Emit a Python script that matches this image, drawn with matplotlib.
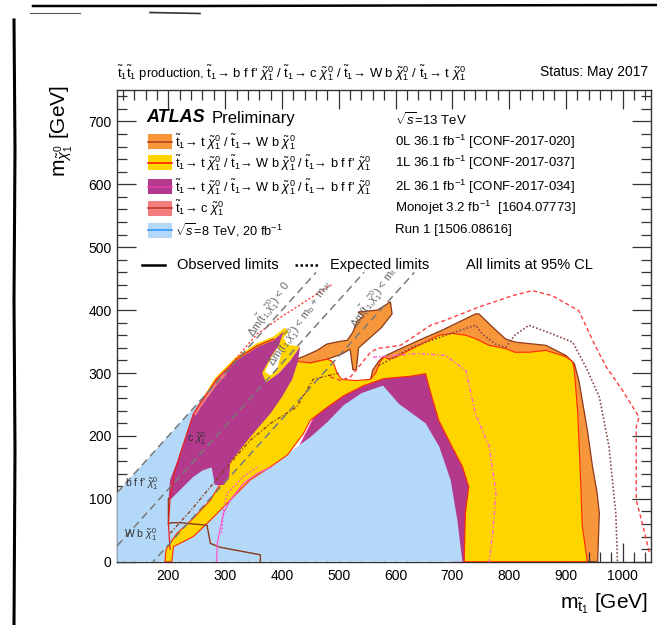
import numpy as np
import matplotlib
matplotlib.use("Agg")
import matplotlib.pyplot as plt
from matplotlib.patches import Polygon, Rectangle
from matplotlib.lines import Line2D
from matplotlib.ticker import MultipleLocator

plt.rcParams['font.family'] = ['Liberation Sans', 'DejaVu Sans']
plt.rcParams['mathtext.fontset'] = 'custom'
plt.rcParams['mathtext.rm'] = 'Liberation Sans'
plt.rcParams['mathtext.it'] = 'Liberation Sans:italic'
plt.rcParams['mathtext.bf'] = 'Liberation Sans:bold'

# exclusion regions as (m_stop, m_chi) in GeV
run1_x = [110, 110, 265, 300, 335, 380, 430, 450, 480, 509, 540, 578, 606, 653, 677, 697, 709, 715, 718]
run1_y = [0, 110, 265, 230, 200, 150, 185, 198, 222, 249, 268, 280, 251, 220, 183, 130, 66, 20, 0]

l0_main_x = [956, 959, 955, 947, 938, 923, 915, 900, 865, 812, 794, 771, 747, 741, 682, 641, 600, 577, 570, 560, 556, 600, 800, 900]
l0_main_y = [0, 77, 110, 151, 209, 288, 315, 328, 344, 349, 354, 373, 394, 394, 368, 352, 335, 325, 318, 305, 290, 280, 200, 0]
l0_spike_x = [420, 440, 462, 479, 500, 515, 525, 532, 544, 534, 568, 591, 594, 575, 550, 535, 531, 525, 520, 505, 480, 450, 425]
l0_spike_y = [320, 327, 336, 346, 350, 352, 365, 382, 390, 397, 400, 413, 394, 372, 352, 340, 305, 305, 338, 330, 322, 316, 312]

l1_x = [206, 209, 244, 274, 309, 344, 380, 410, 438, 450, 479, 509, 544, 579, 627, 653, 659, 676, 700, 718, 729, 723, 721,
        938, 929, 926, 921, 915, 912, 900, 865, 835, 810, 794, 765, 740, 724, 700, 676, 641, 600, 588, 580, 573,
        565, 556, 530, 505, 497, 490, 480, 450, 430, 422, 410, 375, 340, 320, 303, 292, 274, 245, 215, 196, 194]
l1_y = [0, 24, 40, 66, 98, 130, 151, 170, 204, 225, 245, 264, 280, 291, 295, 299, 278, 225, 182, 151, 119, 77, 0,
        0, 56, 130, 236, 304, 318, 326, 336, 333, 333, 339, 344, 355, 360, 363, 360, 344, 325, 322, 326, 318,
        300, 290, 288, 290, 300, 318, 322, 316, 318, 325, 290, 240, 200, 175, 150, 125, 98, 70, 45, 20, 0]
l1_top_x = [250, 282, 318, 355, 385, 405, 412, 400, 385, 360, 320, 285, 258]
l1_top_y = [245, 292, 325, 347, 358, 372, 366, 352, 345, 335, 312, 282, 240]
l1_notch_x = [360, 372, 395, 415, 432, 410, 400]
l1_notch_y = [295, 283, 300, 320, 342, 345, 360]
notch_x = [370, 380, 392, 400, 392, 380]
notch_y = [302, 296, 308, 335, 340, 322]

l2_right_x = [430, 460, 510, 580, 630, 665, 667, 682, 706, 724, 735, 729, 727, 700, 640, 560, 480]
l2_right_y = [182, 236, 268, 292, 298, 300, 278, 225, 182, 151, 119, 77, 0, 0, 150, 240, 200]
l2_left_x = [200, 203, 221, 244, 256, 285, 320, 356, 385, 403, 395, 380, 365, 372, 395, 415, 432, 428, 418, 400, 380,
             344, 309, 307, 298, 282, 276, 260, 244, 225, 205]
l2_left_y = [98, 130, 172, 235, 250, 288, 320, 341, 352, 366, 345, 325, 300, 285, 300, 320, 342, 318, 290, 262, 236,
             198, 158, 135, 122, 122, 150, 145, 135, 118, 100]

mono_x = [244, 256, 285, 300, 303, 287, 258, 248]
mono_y = [236, 252, 292, 305, 298, 283, 247, 232]

# expected limits
exp0l_x = [485, 503, 521, 556, 568, 609, 662, 688, 747, 806, 841, 876, 923, 953, 971, 1000, 1029, 1024, 1024, 1035, 1047]
exp0l_y = [294, 288, 294, 333, 339, 344, 376, 384, 405, 423, 431, 423, 399, 341, 310, 272, 230, 214, 98, 60, 15]
exp1l_x = [571, 629, 688, 741, 753, 776, 794, 810, 835, 876, 912, 935, 959, 976, 982, 988, 991]
exp1l_y = [312, 341, 360, 376, 362, 346, 341, 360, 376, 362, 349, 310, 262, 183, 130, 77, 0]
exp2l_x = [560, 600, 641, 688, 724, 729, 741, 765, 777, 771, 765]
exp2l_y = [325, 328, 331, 328, 304, 283, 235, 183, 109, 45, 0]
exp_comp_x = [300, 330, 356, 400, 426, 460, 490]
exp_comp_y = [300, 335, 362, 390, 405, 425, 442]

# low-mass W b chi contours
wb0l_x = [200, 200, 205, 220, 268, 274, 291, 362, 362]
wb0l_y = [100, 60, 62, 62, 58, 29, 23, 11, 0]
wb2l_x = [285, 286, 297, 309, 332, 356, 380]
wb2l_y = [0, 29, 77, 98, 124, 140, 150]
wb2l_exp_x = [294, 297, 303, 332, 356]
wb2l_exp_y = [45, 82, 108, 135, 150]
wb1l_exp_x = [203, 240, 274, 310, 344, 380, 426, 455, 500]
wb1l_exp_y = [45, 82, 119, 158, 193, 220, 246, 290, 300]
mono_obs_x = [203, 200, 203, 210, 221, 244, 256, 285, 320, 356, 385]
mono_obs_y = [20, 60, 100, 140, 172, 235, 252, 290, 322, 343, 354]

# kinematic boundaries: m_chi = m_stop - offset
kin_offsets = [0.0, 84.6, 173.2]

C_OR, C_YE, C_PU, C_SA, C_BL = '#f7963a', '#ffd500', '#b3398c', '#f47c7c', '#b4d8f7'

W, H = 657, 625
fig = plt.figure(figsize=(W / 100, H / 100), dpi=100)
fx = lambda px: px / W
fy = lambda py: 1 - py / H
ax = fig.add_axes([fx(117.3), fy(561.7), (651 - 117.3) / W, (561.7 - 90) / H])
ax.set_xlim(110, 1050)
ax.set_ylim(0, 750)

def poly(xs, ys, fc, ec='none', lw=0.8, z=1):
    ax.add_patch(Polygon(np.column_stack([xs, ys]), closed=True, fc=fc, ec=ec, lw=lw, zorder=z))

poly(l0_main_x, l0_main_y, C_OR, '#8b3a1a', 0.9, 1)
poly(l0_spike_x, l0_spike_y, C_OR, '#8b3a1a', 0.9, 1)
poly(l2_right_x, l2_right_y, C_PU, '#e040a0', 0.8, 2)
poly(run1_x, run1_y, C_BL, z=3)
poly(l1_x, l1_y, C_YE, '#ff2a00', 0.8, 4)
poly(l1_top_x, l1_top_y, C_YE, z=4)
poly(l1_notch_x, l1_notch_y, C_YE, z=4)
poly(notch_x, notch_y, 'white', z=4.5)
poly(l2_left_x, l2_left_y, C_PU, z=5)
poly(mono_x, mono_y, C_SA, z=6)

ax.plot(exp0l_x, exp0l_y, color='#ff4040', ls=(0, (3, 2)), lw=1.0, zorder=7)
ax.plot(exp1l_x, exp1l_y, color='#8b4a4a', ls=(0, (1, 1.2)), lw=1.2, zorder=7)
ax.plot(exp2l_x, exp2l_y, color='#ff66cc', ls=(0, (3, 1.5, 1, 1.5)), lw=1.0, zorder=7)
ax.plot(exp_comp_x, exp_comp_y, color='#ff4040', ls=(0, (1.5, 1.5)), lw=1.0, zorder=7)
ax.plot(wb0l_x, wb0l_y, color='#8b3a1a', lw=1.0, zorder=7)
ax.plot(wb2l_x, wb2l_y, color='#ff55cc', lw=0.9, zorder=7)
ax.plot(wb2l_exp_x, wb2l_exp_y, color='#ff55cc', ls=(0, (1.5, 1.5)), lw=0.9, zorder=7)
ax.plot(wb1l_exp_x, wb1l_exp_y, color='#8b3a1a', ls=(0, (3, 1.5, 1, 1.5)), lw=0.9, zorder=7)
ax.plot(mono_obs_x, mono_obs_y, color='#e8201a', lw=0.9, zorder=7)

for off in kin_offsets:
    xs = np.array([110.0, 460.0 + off])
    ax.plot(xs, xs - off, color='#7a7a7a', ls=(0, (5, 3)), lw=1.1, zorder=8)

guide_kw = dict(fontsize=7.8, color='#666666', rotation=55, ha='center', va='center', zorder=8)
ax.text(377, 401, r'$\Delta$m($\tilde{\rm t}_1$,$\tilde{\chi}^0_1$) < 0', **guide_kw)
ax.text(432, 380, r'$\Delta$m($\tilde{\rm t}_1$,$\tilde{\chi}^0_1$) < m$_{\rm b}$ + m$_{\rm W}$', **guide_kw)
ax.text(562, 420, r'$\Delta$m($\tilde{\rm t}_1$,$\tilde{\chi}^0_1$) < m$_{\rm t}$', **guide_kw)

decay_kw = dict(fontsize=7.5, color='#333333', zorder=8)
ax.text(233, 190, r'c $\tilde{\chi}^0_1$', **decay_kw)
ax.text(124, 118, r"b f f' $\tilde{\chi}^0_1$", **decay_kw)
ax.text(122, 38, r'W b $\tilde{\chi}^0_1$', **decay_kw)

ax.xaxis.set_major_locator(MultipleLocator(100))
ax.xaxis.set_minor_locator(MultipleLocator(20))
ax.yaxis.set_major_locator(MultipleLocator(100))
ax.yaxis.set_minor_locator(MultipleLocator(20))
ax.tick_params(which='both', direction='in', top=True, right=True, labelsize=10, width=0.9, color='#333333')
ax.tick_params(which='major', length=14)
ax.tick_params(which='minor', length=7)
ax.tick_params(axis='x', pad=5)
ax.tick_params(axis='y', pad=4)
for s in ax.spines.values():
    s.set_linewidth(1.0)
    s.set_color('#333333')

fig.text(fx(648), fy(604), r'm$_{\tilde{\rm t}_1}$ [GeV]', fontsize=15, ha='right', va='center')
fig.text(fx(62), fy(85), r'm$_{\tilde{\chi}^0_1}$ [GeV]', fontsize=15, ha='center', va='top', rotation=90)

T = r'$\tilde{\rm t}_1$'
CHI = r'$\tilde{\chi}^0_1$'
AR = '\u2192'
title = (T + T + ' production, ' + T + AR + " b f f' " + CHI + ' / ' + T + AR + ' c ' + CHI + ' / '
         + T + AR + ' W b ' + CHI + ' / ' + T + AR + ' t ' + CHI)
fig.text(fx(117), fy(73), title, fontsize=9.4, ha='left', va='center')
fig.text(fx(648), fy(72), 'Status: May 2017', fontsize=10, ha='right', va='center')

# legend block
fig.text(fx(146), fy(118), 'ATLAS', fontsize=13, fontweight='bold', style='italic', ha='left', va='center')
fig.text(fx(212), fy(118), 'Preliminary', fontsize=12, ha='left', va='center')
leg_rows = [141.7, 163, 186.7, 208.3, 230]
leg_fill = [C_OR, C_YE, C_PU, C_SA, C_BL]
leg_line = ['#b5451b', '#ff2000', '#e040a8', '#c0392b', '#3399ff']
leg_labels = [T + AR + ' t ' + CHI + ' / ' + T + AR + ' W b ' + CHI,
              T + AR + ' t ' + CHI + ' / ' + T + AR + ' W b ' + CHI + ' / ' + T + AR + " b f f' " + CHI,
              T + AR + ' t ' + CHI + ' / ' + T + AR + ' W b ' + CHI + ' / ' + T + AR + " b f f' " + CHI,
              T + AR + ' c ' + CHI,
              r'$\sqrt{s}$=8 TeV, 20 fb$^{-1}$']
leg_refs = [r'0L 36.1 fb$^{-1}$ [CONF-2017-020]', r'1L 36.1 fb$^{-1}$ [CONF-2017-037]',
            r'2L 36.1 fb$^{-1}$ [CONF-2017-034]', r'Monojet 3.2 fb$^{-1}$  [1604.07773]',
            'Run 1 [1506.08616]']
for py, fc, lc, lab, ref in zip(leg_rows, leg_fill, leg_line, leg_labels, leg_refs):
    fig.add_artist(Rectangle((fx(148), fy(py + 7.5)), 24 / W, 15 / H, fc=fc, ec='none'))
    fig.add_artist(Line2D([fx(148), fx(172)], [fy(py), fy(py)], color=lc, lw=1.2))
    fig.text(fx(175), fy(py), lab, fontsize=9.2, ha='left', va='center')
    fig.text(fx(395), fy(py), ref, fontsize=9.5, ha='left', va='center')
fig.text(fx(395), fy(120), r'$\sqrt{s}$=13 TeV', fontsize=9.5, ha='left', va='center')

fig.add_artist(Line2D([fx(142), fx(165)], [fy(265), fy(265)], color='black', lw=1.8))
fig.text(fx(177), fy(265), 'Observed limits', fontsize=10.5, ha='left', va='center')
fig.add_artist(Line2D([fx(295), fx(318)], [fy(265), fy(265)], color='black', lw=1.8, ls=(0, (1, 1))))
fig.text(fx(330), fy(265), 'Expected limits', fontsize=10.5, ha='left', va='center')
fig.text(fx(466), fy(265), 'All limits at 95% CL', fontsize=10.5, ha='left', va='center')

# ragged black edges around the sheet
fig.add_artist(Line2D([fx(14), fx(15), fx(14), fx(15), fx(14)], [fy(20), fy(150), fy(300), fy(450), fy(625)],
                      color='black', lw=2.2))
fig.add_artist(Line2D([fx(33), fx(200), fx(400), fx(657)], [fy(6), fy(6), fy(5.5), fy(5)], color='black', lw=1.8))
fig.add_artist(Line2D([fx(30), fx(80)], [fy(13), fy(13)], color='#555555', lw=0.8))
fig.add_artist(Line2D([fx(150), fx(200)], [fy(12.5), fy(13.5)], color='#333333', lw=1.2))

fig.savefig('out.png', dpi=100)
